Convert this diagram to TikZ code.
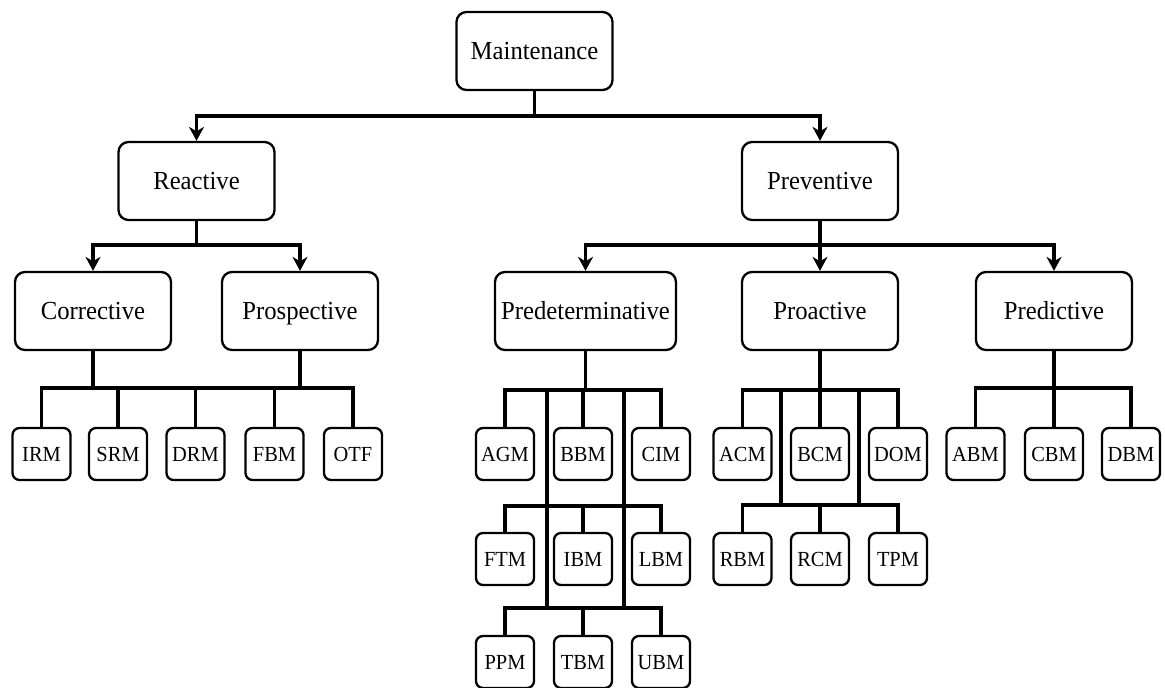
\documentclass[tikz,border=0pt]{standalone}
\usepackage{fontspec}
\setmainfont{Liberation Serif}
\newfontfamily\lblfont{Liberation Serif}[FakeStretch=0.95]
\usetikzlibrary{arrows.meta}
\begin{document}
\begin{tikzpicture}[x=1pt,y=-1pt,
  box/.style={draw, line width=2.3pt, rounded corners=10pt, minimum height=78pt,
    minimum width=156pt, inner sep=0pt, text height=17.2pt, text depth=0pt,
    font=\lblfont\fontsize{26}{30}\selectfont},
  leaf/.style={draw, line width=2.3pt, rounded corners=7pt, minimum height=52pt,
    minimum width=58pt, inner sep=0pt, text height=14.2pt, text depth=0pt,
    font=\lblfont\fontsize{21.5}{25}\selectfont},
  link/.style={line width=3.4pt},
  arr/.style={link, -{Stealth[length=14pt,width=15pt,inset=4.5pt]}}
]
\useasboundingbox (0,0) rectangle (1165,688);

% upper levels
\node[box] (maint) at (534.5,51) {Maintenance};
\node[box] (react) at (196.5,181) {Reactive};
\node[box] (prev)  at (820,181) {Preventive};
\node[box] (corr)  at (93,311) {Corrective};
\node[box] (prosp) at (300,311) {Prospective};
\node[box, minimum width=181pt] (pdet) at (585.5,311) {Predeterminative};
\node[box] (proact) at (820,311) {Proactive};
\node[box] (predi) at (1054,311) {Predictive};

% leaves, first row
\node[leaf] (irm) at (41.5,454) {IRM};
\node[leaf] (srm) at (118,454) {SRM};
\node[leaf] (drm) at (195.5,454) {DRM};
\node[leaf] (fbm) at (274.5,454) {FBM};
\node[leaf] (otf) at (353,454) {OTF};
\node[leaf] (agm) at (505,454) {AGM};
\node[leaf] (bbm) at (583,454) {BBM};
\node[leaf] (cim) at (661,454) {CIM};
\node[leaf] (acm) at (742.5,454) {ACM};
\node[leaf] (bcm) at (820,454) {BCM};
\node[leaf] (dom) at (898,454) {DOM};
\node[leaf] (abm) at (975.5,454) {ABM};
\node[leaf] (cbm) at (1054,454) {CBM};
\node[leaf] (dbm) at (1131,454) {DBM};
% second row
\node[leaf] (ftm) at (505,559) {FTM};
\node[leaf] (ibm) at (583,559) {IBM};
\node[leaf] (lbm) at (661,559) {LBM};
\node[leaf] (rbm) at (742.5,559) {RBM};
\node[leaf] (rcm) at (820,559) {RCM};
\node[leaf] (tpm) at (898,559) {TPM};
% third row
\node[leaf] (ppm) at (505,662) {PPM};
\node[leaf] (tbm) at (583,662) {TBM};
\node[leaf] (ubm) at (661,662) {UBM};

% bar heights
\coordinate (j0) at (0,116);
\coordinate (j1) at (0,245);
\coordinate (j2) at (0,388);
\coordinate (j3) at (0,390);
\coordinate (j4) at (0,506);
\coordinate (j5) at (0,608);
\coordinate (j6) at (0,505);

% level 1
\draw[arr] (maint.south) -- (maint.south |- j0) -| (react.north);
\draw[arr] (maint.south |- j0) -| (prev.north);

% level 2
\draw[arr] (react.south) -- (react.south |- j1) -| (corr.north);
\draw[arr] (react.south |- j1) -| (prosp.north);
\draw[arr] (prev.south) -- (proact.north);
\draw[arr] (prev.south |- j1) -| (pdet.north);
\draw[arr] (prev.south |- j1) -| (predi.north);

% reactive leaves
\draw[link] (corr.south) -- (corr.south |- j2);
\draw[link] (prosp.south) -- (prosp.south |- j2);
\draw[link] (irm.north) |- (otf.north |- j2) -- (otf.north);
\foreach \n in {srm,drm,fbm} \draw[link] (\n.north) -- (\n.north |- j2);

% predeterminative leaves
\coordinate (pa1) at (547,390);
\coordinate (pa2) at (547,608);
\coordinate (pb1) at (624,390);
\coordinate (pb2) at (624,608);
\draw[link] (pdet.south) -- (pdet.south |- j3);
\draw[link] (agm.north) |- (cim.north |- j3) -- (cim.north);
\draw[link] (bbm.north) -- (bbm.north |- j3);
\draw[link] (pa1) -- (pa2);
\draw[link] (pb1) -- (pb2);
\draw[link] (ftm.north) |- (lbm.north |- j4) -- (lbm.north);
\draw[link] (ibm.north) -- (ibm.north |- j4);
\draw[link] (ppm.north) |- (ubm.north |- j5) -- (ubm.north);
\draw[link] (tbm.north) -- (tbm.north |- j5);

% proactive leaves
\coordinate (qa1) at (781,390);
\coordinate (qa2) at (781,505);
\coordinate (qb1) at (859,390);
\coordinate (qb2) at (859,505);
\draw[link] (proact.south) -- (proact.south |- j3);
\draw[link] (acm.north) |- (dom.north |- j3) -- (dom.north);
\draw[link] (bcm.north) -- (bcm.north |- j3);
\draw[link] (qa1) -- (qa2);
\draw[link] (qb1) -- (qb2);
\draw[link] (rbm.north) |- (tpm.north |- j6) -- (tpm.north);
\draw[link] (rcm.north) -- (rcm.north |- j6);

% predictive leaves
\draw[link] (predi.south) -- (predi.south |- j2);
\draw[link] (abm.north) |- (dbm.north |- j2) -- (dbm.north);
\draw[link] (cbm.north) -- (cbm.north |- j2);
\end{tikzpicture}
\end{document}
